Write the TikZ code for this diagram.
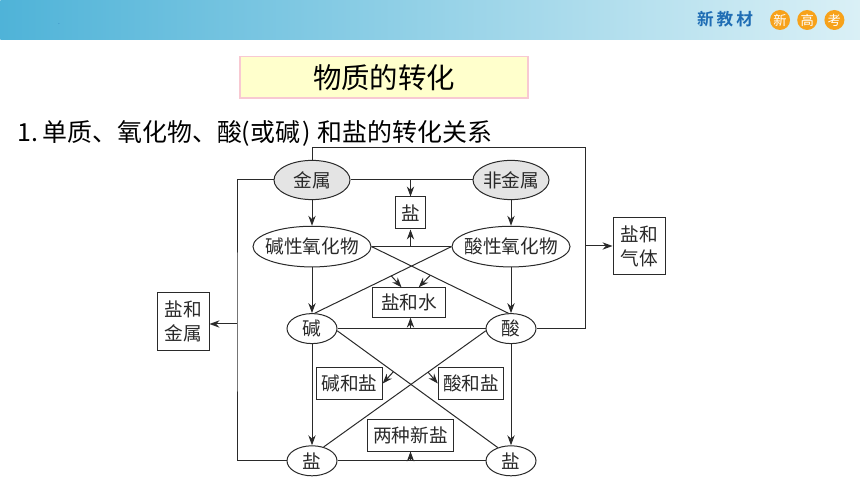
\documentclass[tikz,border=0pt]{standalone}
\usepackage{fontspec}
\setmainfont{Noto Sans CJK SC}
\newfontfamily\logofont[LetterSpace=18]{Noto Sans CJK SC Bold}
\usepackage{xcolor}
\usetikzlibrary{positioning,arrows.meta,shapes.geometric,calc}
\definecolor{ink}{HTML}{2A2A2A}
\definecolor{bandl}{HTML}{4FB3D8}
\definecolor{bandr}{HTML}{DAF0F6}
\definecolor{logob}{HTML}{1F6DB4}
\definecolor{logoo}{HTML}{F7A21B}
\definecolor{pale}{HTML}{FFFFCC}
\definecolor{rim}{HTML}{F8C9D2}
\definecolor{elem}{HTML}{E4E4E4}
\tikzset{
  ell/.style={ellipse, draw=ink, fill=white, line width=0.75pt, inner sep=0pt,
              font=\fontsize{14}{16}\selectfont, text=ink},
  elem/.style={ell, fill=elem, inner xsep=-1pt, minimum width=57pt, minimum height=29.4pt},
  oxide/.style={ell, inner xsep=-3.7pt, minimum width=88.5pt, minimum height=30.5pt},
  comp/.style={ell, minimum width=37.5pt, minimum height=22.5pt},
  res/.style={draw=ink, fill=white, line width=0.75pt, inner sep=0pt, align=center,
              font=\fontsize{14}{18}\selectfont, text=ink},
  ln/.style={draw=ink, line width=0.75pt},
  ar/.style={ln, -{Stealth[length=7.5pt,width=5.5pt]}},
  badge/.style={circle, fill=logoo, text=white, inner sep=0pt, minimum size=15pt,
                font=\fontsize{10}{10}\selectfont},
}

\begin{document}
\begin{tikzpicture}[x=0.75pt,y=-0.75pt]
\useasboundingbox (0,0) rectangle (860,484);
% --- HEADER ---
\node[minimum width=645pt, minimum height=29.25pt, inner sep=0pt, left color=bandl, right color=bandr,
      anchor=north west] (band) at (0,0) {};
\node[font=\tiny, text=logob] (speck) at (59,24) {.};
\node[badge] (b1) at (780,20) {新};
\node[badge] (b2) [right=5pt of b1] {高};
\node[badge] (b3) [right=5pt of b2] {考};
\node[font=\fontsize{12.5}{14}\logofont, text=logob] (logo) at (725,19) {新教材};

% --- TITLES ---
\node[draw=rim, fill=pale, line width=1pt, minimum width=216pt, minimum height=31pt, inner sep=0pt,
      font=\fontsize{21.3}{24}\selectfont] (title) at (384,77.5) {物质的转化};
\node[anchor=west, font=\fontsize{18.7}{22}\selectfont] (head) at (13,133)
  {1.\hspace{3pt}单质、氧化物、酸(或碱\hspace{2pt})\hspace{5pt}和盐的转化关系};

% --- ELLIPSES ---
\node[elem] (jinshu) at (312,180) {金属};
\node[elem] (feijin) [right=91.5pt of jinshu] {非金属};
\node[oxide] (jianx) [below=19.25pt of jinshu] {碱性氧化物};
\node[oxide] (suanx) [below=19.25pt of feijin] {酸性氧化物};
\node[comp] (jian) [below=34.25pt of jianx] {碱};
\node[comp] (suan) [below=34.25pt of suanx] {酸};
\node[comp] (yanl) [below=75.9pt of jian] {盐};
\node[comp] (yanr) [below=75.9pt of suan] {盐};

% --- BOXES ---
\node[res, minimum width=23pt, minimum height=24pt] (yan) at (410.5,213) {盐};
\node[res, minimum width=55pt, minimum height=22pt] (shui) at (409,302.5) {盐和水};
\node[res, minimum width=49pt, minimum height=23.5pt] (jy) at (349.5,383.5) {碱和盐};
\node[res, minimum width=49pt, minimum height=23.5pt] (sy) at (471,383.5) {酸和盐};
\node[res, minimum width=65pt, minimum height=24pt] (liang) at (410.5,435) {两种新盐};
\node[res, minimum width=39pt, minimum height=43pt] (qiti) at (639,246) {盐和\\气体};
\node[res, minimum width=39pt, minimum height=43pt] (jsb) at (183,321.5) {盐和\\金属};

% --- HUBS ---
\coordinate (hub1) at (yan |- jinshu);
\coordinate (hub2) at (yan |- jianx);
\coordinate (hub3) at (yan |- jian);
\coordinate (hub4) at (yan |- yanl);
\coordinate (tr) at (585,148);
\coordinate (lf) at (237,324);
\coordinate (c1) at ($(suanx.west)!0.44!(jian.80)$);
\coordinate (c2) at ($(jianx.east)!0.43!(suan.100)$);
\coordinate (c3) at ($(jian.-5)!0.35!(yanr.135)$);
\coordinate (c4) at ($(suan.185)!0.356!(yanl.50)$);

% --- VERTICALS ---
\draw[ar] (jinshu) -- (jianx);
\draw[ar] (feijin) -- (suanx);
\draw[ar] (jianx) -- (jian);
\draw[ar] (suanx) -- (suan);
\draw[ar] (jian) -- (yanl);
\draw[ar] (suan) -- (yanr);

% --- HORIZONTALS ---
\draw[ln] (jinshu) -- (feijin);
\draw[ln] (jianx) -- (suanx);
\draw[ln] (jian) -- (suan);
\draw[ln] (yanl) -- (yanr);
\draw[ar] (hub1) -- (yan.north);
\draw[ar] (hub2) -- (yan.south);
\draw[ar] (hub3) -- (hub3 |- shui.south);
\draw[ar] (hub4) -- (liang.south);

% --- CROSSES ---
\draw[ln] (jianx.east) -- (suan.100);
\draw[ln] (suanx.west) -- (jian.80);
\draw[ln] (jian.-5) -- (yanr.135);
\draw[ln] (suan.185) -- (yanl.50);
\draw[ar] (c1) -- ($(shui.north west)!0.4!(shui.north east)$);
\draw[ar] (c2) -- ($(shui.north west)!0.63!(shui.north east)$);
\draw[ar] (c3) -- (jy.east);
\draw[ar] (c4) -- (sy.west);

% --- OUTER ---
\draw[ln] (jinshu.north) |- (tr) |- (suan.east);
\draw[ar] (tr |- qiti) -- (qiti.west);
\draw[ln] (jinshu.west) -| (lf) |- (yanl.west);
\draw[ar] (lf) -- (lf -| jsb.east);
\end{tikzpicture}
\end{document}
